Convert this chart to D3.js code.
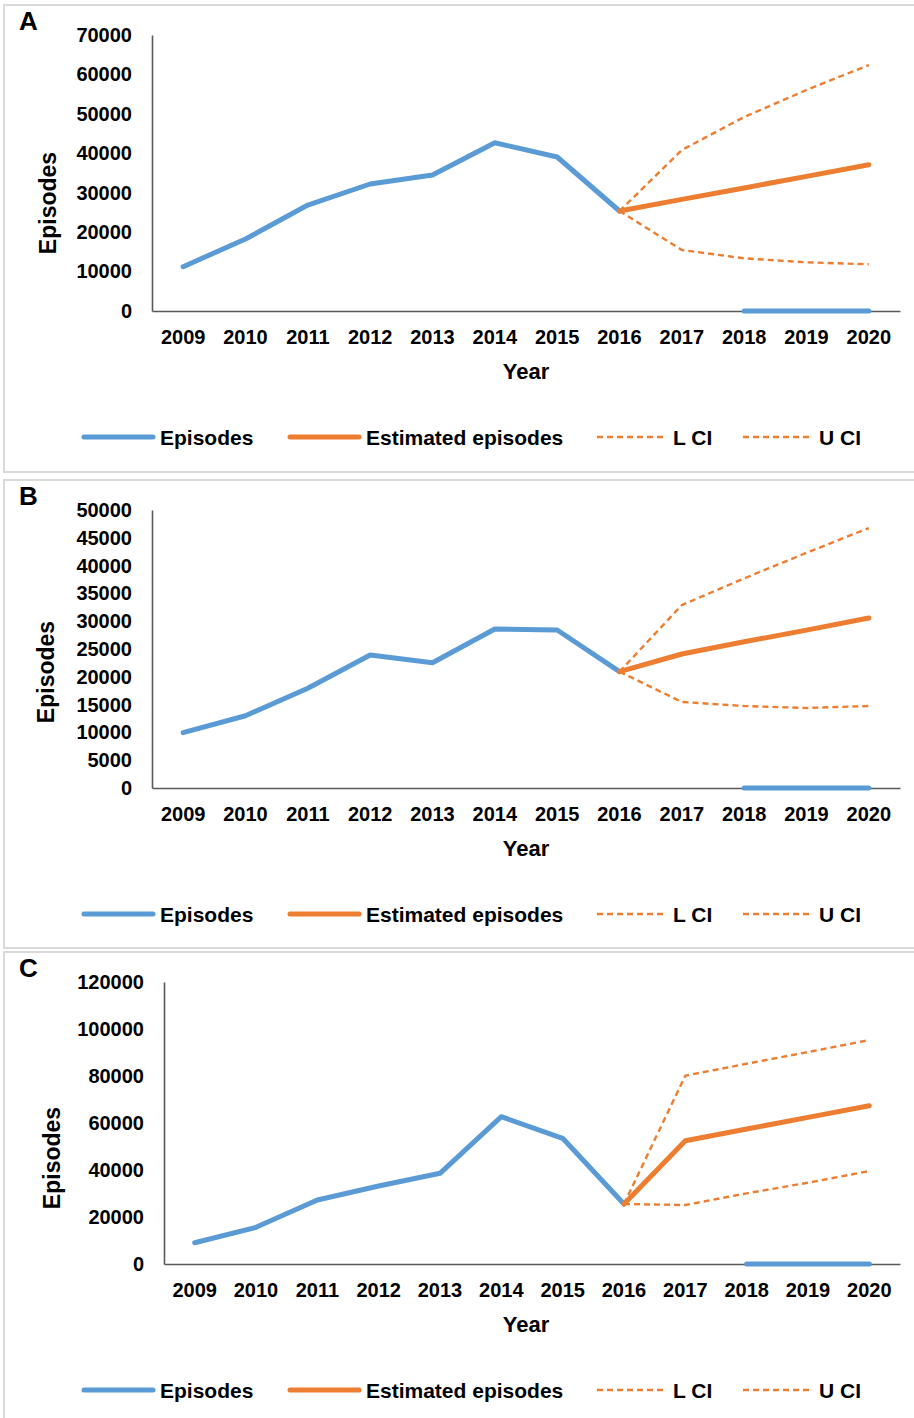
<!DOCTYPE html>
<html>
<head>
<meta charset="utf-8">
<script src="https://cdn.jsdelivr.net/npm/d3@7"></script>
<style>
  body { margin: 0; background: #fff; }
  text { font-family: "Liberation Sans", Arial, sans-serif; font-weight: bold; fill: #000; }
</style>
</head>
<body>
<script>
// years on the x axis
var years = ["2009", "2010", "2011", "2012", "2013", "2014", "2015", "2016", "2017", "2018", "2019", "2020"];

// panel A
var episodesA  = [11240, 18260, 26880, 32210, 34490, 42680, 39060, 25360, null, 0, 0, 0];
var estimatedA = [null, null, null, null, null, null, null, 25360, 28300, 31200, 34150, 37100];
var lciA       = [null, null, null, null, null, null, null, 25360, 15470, 13360, 12350, 11840];
var uciA       = [null, null, null, null, null, null, null, 25360, 40830, 49200, 56050, 62390];
var ticksA     = [0, 10000, 20000, 30000, 40000, 50000, 60000, 70000];

// panel B
var episodesB  = [9950, 13000, 17930, 23920, 22540, 28600, 28420, 20920, null, 0, 0, 0];
var estimatedB = [null, null, null, null, null, null, null, 20920, 24100, 26300, 28400, 30580];
var lciB       = [null, null, null, null, null, null, null, 20920, 15470, 14750, 14390, 14750];
var uciB       = [null, null, null, null, null, null, null, 20920, 32900, 37700, 42300, 46760];
var ticksB     = [0, 5000, 10000, 15000, 20000, 25000, 30000, 35000, 40000, 45000, 50000];

// panel C
var episodesC  = [9060, 15600, 27230, 33190, 38600, 62680, 53490, 25530, null, 0, 0, 0];
var estimatedC = [null, null, null, null, null, null, null, 25530, 52470, 57430, 62400, 67360];
var lciC       = [null, null, null, null, null, null, null, 25530, 25100, 30070, 34600, 39570];
var uciC       = [null, null, null, null, null, null, null, 25530, 80140, 85200, 90200, 95300];
var ticksC     = [0, 20000, 40000, 60000, 80000, 100000, 120000];

var legendNames = ["Episodes", "Estimated episodes", "L CI", "U CI"];

var blue = "#5B9BD5", orange = "#ED7D31", axisColor = "#595959";

var svg = d3.select("body").append("svg")
    .attr("width", 914)
    .attr("height", 1418);

var panels = [
  { label: "A", boxTop: 5,   boxBottom: 472,  top: 35,  bottom: 311,  left: 152, titleX: 48, titleY: 203,
    episodes: episodesA, estimated: estimatedA, lci: lciA, uci: uciA, ticks: ticksA },
  { label: "B", boxTop: 480, boxBottom: 948,  top: 510, bottom: 788,  left: 152, titleX: 46, titleY: 672,
    episodes: episodesB, estimated: estimatedB, lci: lciB, uci: uciB, ticks: ticksB },
  { label: "C", boxTop: 952, boxBottom: 1430, top: 982, bottom: 1264, left: 164, titleX: 52, titleY: 1158,
    episodes: episodesC, estimated: estimatedC, lci: lciC, uci: uciC, ticks: ticksC }
];

panels.forEach(function(p) {
  var g = svg.append("g");

  // panel frame
  g.append("rect")
    .attr("x", 4).attr("y", p.boxTop)
    .attr("width", 930).attr("height", p.boxBottom - p.boxTop)
    .attr("fill", "#fff")
    .attr("stroke", "#d9d9d9")
    .attr("stroke-width", 2);

  g.append("text")
    .attr("x", 19).attr("y", p.boxTop + 25)
    .style("font-size", "26px")
    .text(p.label);

  var x = d3.scaleBand().domain(years).range([p.left, 900]);
  var y = d3.scaleLinear().domain([0, d3.max(p.ticks)]).range([p.bottom, p.top]);
  var cx = function(d, i) { return x(years[i]) + x.bandwidth() / 2; };

  var yAxis = g.append("g")
    .attr("transform", "translate(" + p.left + ",0)")
    .call(d3.axisLeft(y).tickValues(p.ticks).tickFormat(d3.format("d")).tickSize(0).tickPadding(20));

  var xAxis = g.append("g")
    .attr("transform", "translate(0," + p.bottom + ")")
    .call(d3.axisBottom(x).tickSize(0).tickPadding(19));

  [yAxis, xAxis].forEach(function(a) {
    a.attr("font-family", null).attr("font-size", null);
    a.select(".domain").attr("stroke", axisColor).attr("stroke-width", 1.6);
    a.selectAll("text").style("font-size", "20px");
  });

  // axis titles
  g.append("text")
    .attr("transform", "translate(" + p.titleX + "," + p.titleY + ") rotate(-90)")
    .attr("text-anchor", "middle")
    .attr("dominant-baseline", "central")
    .style("font-size", "23px")
    .text("Episodes");

  g.append("text")
    .attr("x", 526).attr("y", p.bottom + 60)
    .attr("text-anchor", "middle")
    .attr("dominant-baseline", "central")
    .style("font-size", "22px")
    .text("Year");

  var line = d3.line()
    .defined(function(d) { return d != null; })
    .x(cx)
    .y(function(d) { return y(d); });

  var series = [
    { values: p.uci, color: orange, width: 2.4, dash: "6,4" },
    { values: p.lci, color: orange, width: 2.4, dash: "6,4" },
    { values: p.episodes, color: blue, width: 5, dash: null },
    { values: p.estimated, color: orange, width: 5, dash: null }
  ];

  g.selectAll("path.series")
    .data(series)
    .enter()
    .append("path")
    .attr("class", "series")
    .attr("d", function(s) { return line(s.values); })
    .attr("fill", "none")
    .attr("stroke", function(s) { return s.color; })
    .attr("stroke-width", function(s) { return s.width; })
    .attr("stroke-dasharray", function(s) { return s.dash; })
    .attr("stroke-linecap", function(s) { return s.dash ? "butt" : "round"; })
    .attr("stroke-linejoin", "round");

  // legend
  var legendY = p.bottom + 126;
  var legendItems = [
    { x: 84,  color: blue,   width: 5, dash: null },
    { x: 290, color: orange, width: 5, dash: null },
    { x: 597, color: orange, width: 2.4, dash: "6,4" },
    { x: 743, color: orange, width: 2.4, dash: "6,4" }
  ];

  var leg = g.selectAll("g.legend")
    .data(legendItems)
    .enter()
    .append("g")
    .attr("class", "legend")
    .attr("transform", function(d) { return "translate(" + d.x + "," + legendY + ")"; });

  leg.append("line")
    .attr("x1", 0).attr("x2", 69)
    .attr("stroke", function(d) { return d.color; })
    .attr("stroke-width", function(d) { return d.width; })
    .attr("stroke-dasharray", function(d) { return d.dash; })
    .attr("stroke-linecap", function(d) { return d.dash ? "butt" : "round"; });

  leg.append("text")
    .attr("x", 76)
    .attr("dominant-baseline", "central")
    .style("font-size", "21px")
    .text(function(d, i) { return legendNames[i]; });
});
</script>
</body>
</html>
